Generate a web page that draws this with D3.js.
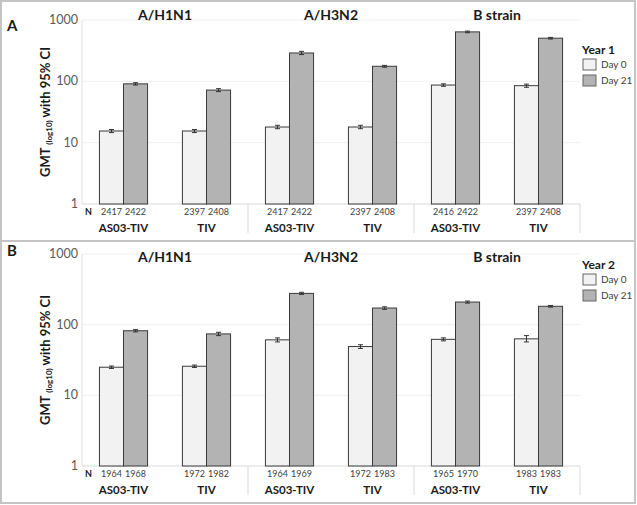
<!DOCTYPE html>
<html>
<head>
  <meta charset="utf-8">
  <script src="https://cdn.jsdelivr.net/npm/d3@7"></script>
  <style>
    body { margin: 0; background: #fff; }
    svg { font-family: Lato, 'Open Sans', sans-serif; }
    .tick-lab { font-size: 12.5px; fill: #595959; }
    .strain { font-size: 14px; font-weight: 700; fill: #1a1a1a; }
    .grp { font-size: 11.5px; font-weight: 700; fill: #1a1a1a; }
    .nlab { font-size: 9px; fill: #404040; }
    .ylab { font-size: 13px; font-weight: 700; fill: #1a1a1a; }
    .leg-title { font-size: 12px; font-weight: 700; fill: #1a1a1a; }
    .leg-lab { font-size: 10px; fill: #404040; }
    .panel-lab { font-size: 15px; font-weight: 700; fill: #1a1a1a; }
  </style>
</head>
<body>
<div id="chart"></div>
<script>
  // categories
  var strains = ["A/H1N1", "A/H3N2", "B strain"];
  var groups = ["AS03-TIV", "TIV"];
  var days = ["Day 0", "Day 21"];
  var yTicks = [1, 10, 100, 1000];

  // Year 1 GMT values, order: strain x group
  var y1Day0 = [15.5, 15.5, 18, 18, 87, 85];
  var y1Day21 = [91, 72, 290, 176, 640, 505];
  var y1Day0Lo = [14.6, 14.6, 16.9, 16.9, 83, 80];
  var y1Day0Hi = [16.4, 16.4, 19.2, 19.2, 91, 90];
  var y1Day21Lo = [87, 68, 273, 170, 620, 490];
  var y1Day21Hi = [95, 76, 308, 182, 660, 520];
  var y1N0 = [2417, 2397, 2417, 2397, 2416, 2397];
  var y1N21 = [2422, 2408, 2422, 2408, 2422, 2408];

  // Year 2 GMT values
  var y2Day0 = [25, 25.8, 61, 49, 62, 63];
  var y2Day21 = [82, 74, 277, 172, 209, 182];
  var y2Day0Lo = [24, 24.8, 57, 46, 59, 57];
  var y2Day0Hi = [26, 26.8, 65, 52, 65, 70];
  var y2Day21Lo = [79, 70, 268, 165, 202, 177];
  var y2Day21Hi = [85, 78, 287, 179, 216, 187];
  var y2N0 = [1964, 1972, 1964, 1972, 1965, 1983];
  var y2N21 = [1968, 1982, 1969, 1983, 1970, 1983];

  var W = 637, H = 505;
  var fills = ["#f2f2f2", "#b3b3b3"];

  var svg = d3.select("#chart").append("svg")
      .attr("width", W).attr("height", H);

  // outer frame + divider between panels
  svg.append("rect").attr("x", 1).attr("y", 1).attr("width", W - 3).attr("height", H - 3)
      .attr("fill", "none").attr("stroke", "#c4c4c4").attr("stroke-width", 2);
  svg.append("line").attr("x1", 1).attr("x2", W - 2).attr("y1", 241).attr("y2", 241)
      .attr("stroke", "#c4c4c4").attr("stroke-width", 2);

  // category keys: strain|group
  var cats = [];
  strains.forEach(function(s) { groups.forEach(function(g) { cats.push(s + "|" + g); }); });

  var x0 = d3.scaleBand().domain(cats).range([82, 580]).paddingInner(0.42).paddingOuter(0.21);
  var x1 = d3.scaleBand().domain(days).range([0, x0.bandwidth()]);

  function drawPanel(p) {
    var g = svg.append("g");
    var y = d3.scaleLog().domain([1, 1000]).range([p.bottom, p.top]);

    // faint gridlines
    g.selectAll(".grid").data(yTicks.slice(1)).join("line")
        .attr("x1", 82).attr("x2", 580)
        .attr("y1", function(d) { return y(d); }).attr("y2", function(d) { return y(d); })
        .attr("stroke", "#f0f0f0");

    // y axis line + tick labels
    g.append("line").attr("x1", 82).attr("x2", 82).attr("y1", y(1000)).attr("y2", y(1))
        .attr("stroke", "#e0e0e0");
    g.selectAll(".tick-lab").data(yTicks).join("text")
        .attr("class", "tick-lab")
        .attr("x", 78).attr("y", function(d) { return y(d) + 4; })
        .attr("text-anchor", "end")
        .text(function(d) { return d; });

    // baseline + category box separators
    g.append("line").attr("x1", 82).attr("x2", 580).attr("y1", y(1)).attr("y2", y(1))
        .attr("stroke", "#d9d9d9");
    [2, 4, 6].forEach(function(k) {
      var sx = 82 + x0.step() * k;
      g.append("line").attr("x1", sx).attr("x2", sx)
          .attr("y1", y(1)).attr("y2", y(1) + 29)
          .attr("stroke", "#d9d9d9");
    });

    // rows of bars
    var rows = cats.map(function(c, i) {
      return [
        { cat: c, day: days[0], v: p.d0[i], lo: p.d0Lo[i], hi: p.d0Hi[i], n: p.n0[i] },
        { cat: c, day: days[1], v: p.d21[i], lo: p.d21Lo[i], hi: p.d21Hi[i], n: p.n21[i] }
      ];
    });
    var flat = [].concat.apply([], rows);
    var bx = function(d) { return x0(d.cat) + x1(d.day); };

    g.selectAll(".bar").data(flat).join("rect")
        .attr("x", bx)
        .attr("y", function(d) { return y(d.v); })
        .attr("width", x1.bandwidth())
        .attr("height", function(d) { return y(1) - y(d.v); })
        .attr("fill", function(d) { return d.day === days[0] ? fills[0] : fills[1]; })
        .attr("stroke", "#3a3a3a")
        .attr("stroke-width", 1);

    // 95% CI whiskers
    var cx = function(d) { return bx(d) + x1.bandwidth() / 2; };
    var eb = g.selectAll(".eb").data(flat).join("g").attr("stroke", "#333").attr("stroke-width", 1);
    eb.append("line").attr("x1", cx).attr("x2", cx)
        .attr("y1", function(d) { return y(d.lo); }).attr("y2", function(d) { return y(d.hi); });
    eb.append("line").attr("x1", function(d) { return cx(d) - 2.5; }).attr("x2", function(d) { return cx(d) + 2.5; })
        .attr("y1", function(d) { return y(d.lo); }).attr("y2", function(d) { return y(d.lo); });
    eb.append("line").attr("x1", function(d) { return cx(d) - 2.5; }).attr("x2", function(d) { return cx(d) + 2.5; })
        .attr("y1", function(d) { return y(d.hi); }).attr("y2", function(d) { return y(d.hi); });

    // N counts
    g.append("text").attr("x", 85).attr("y", y(1) + 11).attr("class", "grp")
        .style("font-size", "9px").text("N");
    g.selectAll(".nlab").data(flat).join("text")
        .attr("class", "nlab")
        .attr("x", cx).attr("y", y(1) + 11)
        .attr("text-anchor", "middle")
        .text(function(d) { return d.n; });

    // group labels
    g.selectAll(".grp-lab").data(cats).join("text")
        .attr("class", "grp")
        .attr("x", function(c) { return x0(c) + x0.bandwidth() / 2; })
        .attr("y", y(1) + 28)
        .attr("text-anchor", "middle")
        .text(function(c) { return c.split("|")[1]; });

    // strain titles, centred over each pair of groups
    g.selectAll(".strain").data(strains).join("text")
        .attr("class", "strain")
        .attr("x", function(s) { return x0(s + "|" + groups[0]) + x0.step() - (x0.step() - x0.bandwidth()) / 2; })
        .attr("y", p.titleY)
        .attr("text-anchor", "middle")
        .text(function(s) { return s; });

    // panel letter
    g.append("text").attr("class", "panel-lab").attr("x", 7).attr("y", p.letterY).text(p.letter);

    // y label
    var yl = g.append("text").attr("class", "ylab")
        .attr("transform", "translate(50," + ((p.top + p.bottom) / 2) + ") rotate(-90)")
        .attr("text-anchor", "middle");
    yl.append("tspan").text("GMT ");
    yl.append("tspan").style("font-size", "8px").attr("dy", 2).text("(log10)");
    yl.append("tspan").attr("dy", -2).text(" with 95% CI");

    // legend
    var lg = g.append("g").attr("transform", "translate(582," + p.legY + ")");
    lg.append("text").attr("class", "leg-title").attr("y", 0).text(p.legTitle);
    lg.selectAll("rect").data(days).join("rect")
        .attr("x", 1).attr("y", function(d, i) { return 5 + i * 16; })
        .attr("width", 13).attr("height", 11)
        .attr("fill", function(d, i) { return fills[i]; })
        .attr("stroke", "#666");
    lg.selectAll(".leg-lab").data(days).join("text")
        .attr("class", "leg-lab")
        .attr("x", 19).attr("y", function(d, i) { return 14 + i * 16; })
        .text(function(d) { return d; });
  }

  drawPanel({
    top: 20, bottom: 204, titleY: 20, letter: "A", letterY: 31,
    legTitle: "Year 1", legY: 54,
    d0: y1Day0, d21: y1Day21, d0Lo: y1Day0Lo, d0Hi: y1Day0Hi,
    d21Lo: y1Day21Lo, d21Hi: y1Day21Hi, n0: y1N0, n21: y1N21
  });

  drawPanel({
    top: 254, bottom: 466, titleY: 262, letter: "B", letterY: 256,
    legTitle: "Year 2", legY: 269,
    d0: y2Day0, d21: y2Day21, d0Lo: y2Day0Lo, d0Hi: y2Day0Hi,
    d21Lo: y2Day21Lo, d21Hi: y2Day21Hi, n0: y2N0, n21: y2N21
  });
</script>
</body>
</html>
